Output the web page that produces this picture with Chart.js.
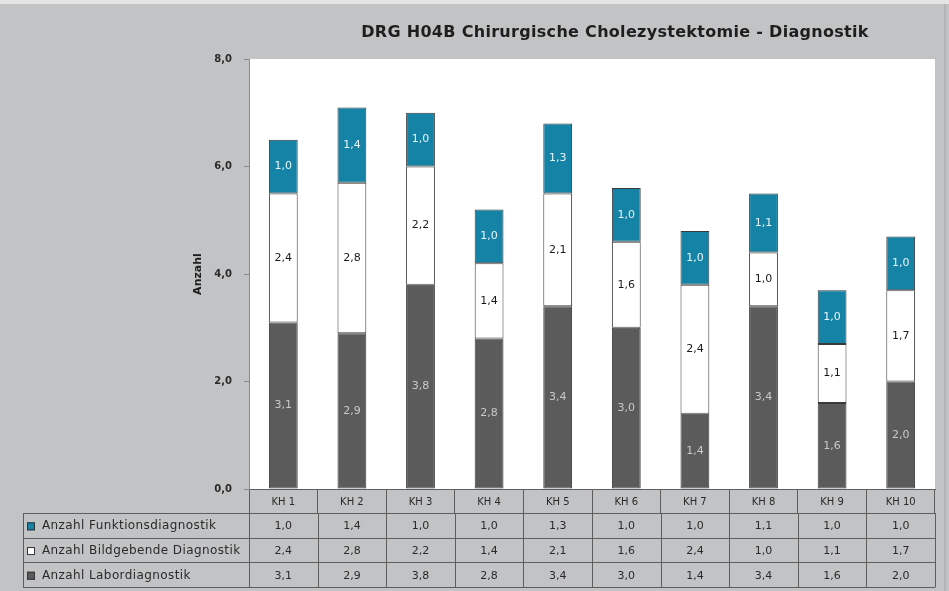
<!DOCTYPE html>
<html>
<head>
<meta charset="utf-8">
<script src="https://cdn.jsdelivr.net/npm/chart.js@4/dist/chart.umd.min.js"></script>
<style>
  html, body { margin: 0; padding: 0; background: #c2c3c4; }
  #wrap { width: 949px; height: 591px; }
</style>
</head>
<body>
<div id="wrap"><canvas id="c" width="949" height="591"></canvas></div>
<script>
const chartTitle = 'DRG H04B Chirurgische Cholezystektomie - Diagnostik';
const categories = ['KH 1', 'KH 2', 'KH 3', 'KH 4', 'KH 5', 'KH 6', 'KH 7', 'KH 8', 'KH 9', 'KH 10'];
const laborValues = [3.1, 2.9, 3.8, 2.8, 3.4, 3.0, 1.4, 3.4, 1.6, 2.0];
const bildValues = [2.4, 2.8, 2.2, 1.4, 2.1, 1.6, 2.4, 1.0, 1.1, 1.7];
const funktionValues = [1.0, 1.4, 1.0, 1.0, 1.3, 1.0, 1.0, 1.1, 1.0, 1.0];
const yTicks = [0, 2, 4, 6, 8];

const FONT = '"DejaVu Sans", Verdana, sans-serif';
const fmt = v => v.toFixed(1).replace('.', ',');

// series in stacking order (bottom first); the table lists them top first
const series = [
  { label: 'Anzahl Labordiagnostik', data: laborValues, fill: '#5b5b5b', text: '#c9c9c9' },
  { label: 'Anzahl Bildgebende Diagnostik', data: bildValues, fill: '#ffffff', text: '#1a1a1a' },
  { label: 'Anzahl Funktionsdiagnostik', data: funktionValues, fill: '#1583a6', text: '#e8f4f8' }
];

const backgroundPlugin = {
  id: 'backdrop',
  beforeDraw(chart) {
    const { ctx, chartArea: a } = chart;
    ctx.save();
    ctx.fillStyle = '#c2c3c4';
    ctx.fillRect(0, 0, chart.width, chart.height);
    ctx.fillStyle = '#e4e4e4';
    ctx.fillRect(0, 0, chart.width, 4);
    ctx.fillStyle = '#b3b4b5';
    ctx.fillRect(chart.width - 5, 4, 2, chart.height - 4);
    ctx.fillStyle = '#ffffff';
    ctx.fillRect(a.left, a.top, a.right - a.left, a.bottom - a.top);
    // title
    ctx.fillStyle = '#1e1e1e';
    ctx.font = 'bold 16px ' + FONT;
    ctx.letterSpacing = '0.3px';
    ctx.textAlign = 'center';
    ctx.textBaseline = 'middle';
    ctx.fillText(chartTitle, 615, 33);
    ctx.restore();
  }
};

const labelPlugin = {
  id: 'barValues',
  afterDatasetsDraw(chart) {
    const { ctx } = chart;
    ctx.save();
    ctx.font = '11px ' + FONT;
    ctx.textAlign = 'center';
    ctx.textBaseline = 'middle';
    chart.data.datasets.forEach((ds, di) => {
      const meta = chart.getDatasetMeta(di);
      meta.data.forEach((bar, i) => {
        ctx.fillStyle = series[di].text;
        ctx.fillText(fmt(ds.data[i]), bar.x, (bar.y + bar.base) / 2);
      });
    });
    ctx.restore();
  }
};

const tablePlugin = {
  id: 'dataTable',
  afterDraw(chart) {
    const { ctx, chartArea: a } = chart;
    const xs = chart.scales.x;
    const n = categories.length;
    const step = (a.right - a.left) / n;
    const rowTop = a.bottom + 24;
    const rowH = 24.7;
    const tableLeft = 23;
    const rows = series.slice().reverse();
    ctx.save();
    ctx.strokeStyle = '#5e5e5e';
    ctx.lineWidth = 1;
    ctx.beginPath();
    for (let r = 0; r <= rows.length; r++) {
      const y = Math.round(rowTop + r * rowH) + 0.5;
      ctx.moveTo(tableLeft, y);
      ctx.lineTo(a.right, y);
    }
    const bottom = Math.round(rowTop + rows.length * rowH) + 0.5;
    ctx.moveTo(tableLeft + 0.5, rowTop);
    ctx.lineTo(tableLeft + 0.5, bottom);
    for (let i = 0; i <= n; i++) {
      const x = Math.round(a.left + i * step) + 0.5;
      ctx.moveTo(x, rowTop);
      ctx.lineTo(x, bottom);
    }
    ctx.stroke();

    ctx.textBaseline = 'middle';
    rows.forEach((s, r) => {
      const cy = rowTop + r * rowH + rowH / 2 + 1;
      // legend key
      ctx.fillStyle = s.fill;
      ctx.fillRect(27, cy - 4, 8, 8);
      ctx.strokeStyle = '#333333';
      ctx.strokeRect(27.5, cy - 3.5, 7, 7);
      ctx.fillStyle = '#2a2a2a';
      ctx.textAlign = 'left';
      ctx.font = '12px ' + FONT;
      ctx.letterSpacing = '0.4px';
      ctx.fillText(s.label, 42, cy);
      ctx.letterSpacing = '0px';
      ctx.font = '11px ' + FONT;
      ctx.textAlign = 'center';
      s.data.forEach((v, i) => {
        ctx.fillText(fmt(v), xs.getPixelForValue(i), cy);
      });
    });
    ctx.restore();
  }
};

new Chart(document.getElementById('c'), {
  type: 'bar',
  data: {
    labels: categories,
    datasets: series.map(s => ({
      label: s.label,
      data: s.data,
      backgroundColor: s.fill,
      borderColor: '#3a3a3a',
      borderWidth: 1,
      borderSkipped: false,
      barPercentage: 0.42,
      categoryPercentage: 1
    }))
  },
  options: {
    responsive: false,
    animation: false,
    devicePixelRatio: 1,
    layout: { padding: { left: 180, right: 14, top: 59, bottom: 78 } },
    plugins: {
      legend: { display: false },
      title: { display: false },
      tooltip: { enabled: false }
    },
    scales: {
      x: {
        stacked: true,
        afterFit(s) { s.height = 24; },
        grid: { display: true, drawOnChartArea: false, offset: true, tickLength: 24, color: '#5e5e5e' },
        border: { display: true, color: '#5e5e5e' },
        ticks: { color: '#2a2a2a', font: { family: FONT, size: 10 }, padding: -17, maxRotation: 0 }
      },
      y: {
        stacked: true,
        min: 0,
        max: 8,
        afterFit(s) { s.width = 69; },
        afterBuildTicks(s) { s.ticks = yTicks.map(v => ({ value: v })); },
        grid: { drawOnChartArea: false, tickLength: 5, color: '#8a8a8a' },
        border: { display: true, color: '#8a8a8a' },
        ticks: {
          color: '#2a2a2a',
          font: { family: FONT, size: 10, weight: 'bold' },
          padding: 12,
          callback: v => fmt(v)
        },
        title: {
          display: true,
          text: 'Anzahl',
          color: '#1e1e1e',
          font: { family: FONT, size: 11, weight: 'bold' },
          padding: { top: 12, bottom: 0 }
        }
      }
    }
  },
  plugins: [backgroundPlugin, labelPlugin, tablePlugin]
});
</script>
</body>
</html>
